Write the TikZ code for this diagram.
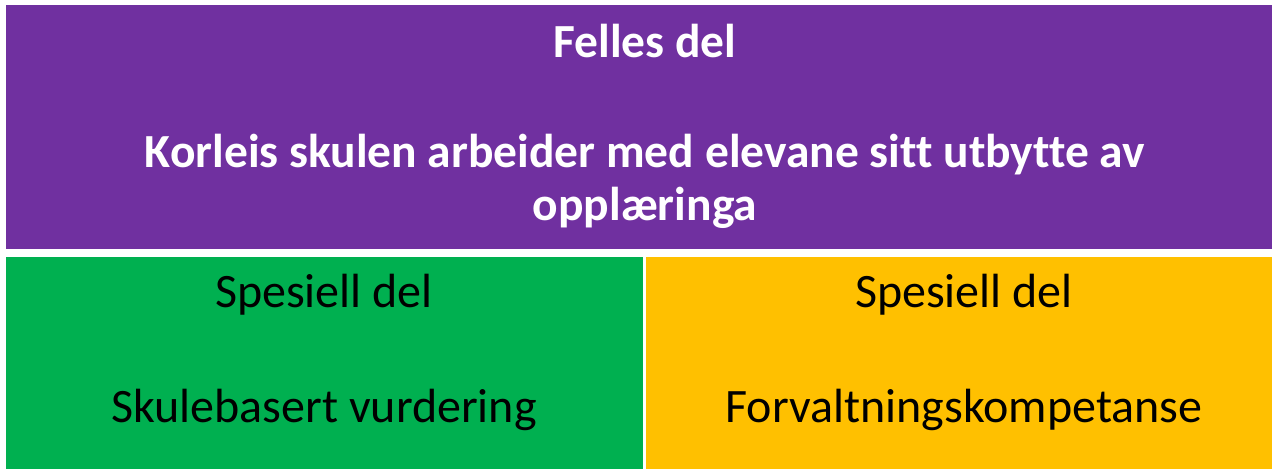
\documentclass[tikz,border=0pt]{standalone}
\usepackage{fontspec}
\setmainfont{Carlito}[Ligatures=NoCommon]
\definecolor{fellesc}{HTML}{7030A0}
\definecolor{vurdc}{HTML}{00B050}
\definecolor{forvc}{HTML}{FFC000}
\tikzset{
  panel/.style={rectangle, draw=none, inner sep=0pt, outer sep=0pt, anchor=north west},
  headtxt/.style={anchor=base, inner sep=0pt, text=white, font=\bfseries\fontsize{47.5}{55}\selectfont},
  bodytxt/.style={anchor=base, inner sep=0pt, text=black, font=\fontsize{48}{57}\selectfont}
}
\begin{document}
\begin{tikzpicture}[x=1pt,y=-1pt]
\useasboundingbox[fill=white] (0,0) rectangle (1272,469);
\node[panel, fill=fellesc, minimum width=1266pt, minimum height=244pt] (felles) at (6,5) {};
\node[panel, fill=vurdc, minimum width=637pt, minimum height=212pt] (vurd) at (6,257) {};
\node[panel, fill=forvc, minimum width=626pt, minimum height=212pt] (forv) at (646,257) {};
\node[headtxt] (f1) at (645,57) {Felles del};
\node[headtxt] (f2) at (645,167) {Korleis skulen arbeider med elevane sitt utbytte av};
\node[headtxt] (f3) at (645,220) {opplæringa};
\node[bodytxt] (v1) at (324,307) {Spesiell del};
\node[bodytxt] (v2) at (324,422) {Skulebasert vurdering};
\node[bodytxt] (o1) at (964,307) {Spesiell del};
\node[bodytxt] (o2) at (964,422) {Forvaltningskompetanse};
\end{tikzpicture}
\end{document}
